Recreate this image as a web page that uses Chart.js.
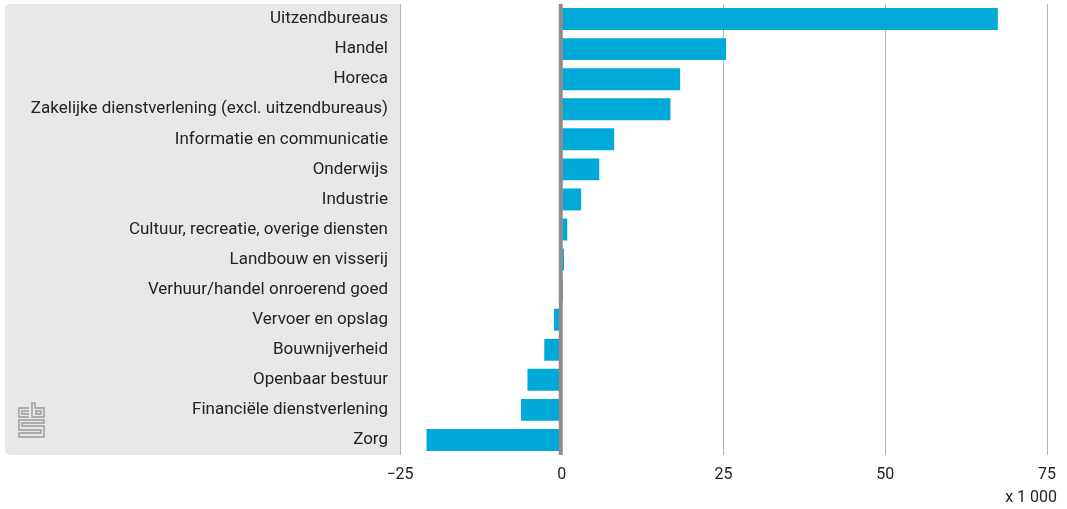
<!DOCTYPE html>
<html>
<head>
<meta charset="utf-8">
<script src="https://cdn.jsdelivr.net/npm/chart.js@4/dist/chart.umd.min.js"></script>
<style>
  html, body { margin: 0; padding: 0; background: #ffffff; }
  #wrap { width: 1067px; height: 509px; position: relative; }
</style>
</head>
<body>
<div id="wrap"><canvas id="c"></canvas></div>
<script>
const categories = [
  'Uitzendbureaus',
  'Handel',
  'Horeca',
  'Zakelijke dienstverlening (excl. uitzendbureaus)',
  'Informatie en communicatie',
  'Onderwijs',
  'Industrie',
  'Cultuur, recreatie, overige diensten',
  'Landbouw en visserij',
  'Verhuur/handel onroerend goed',
  'Vervoer en opslag',
  'Bouwnijverheid',
  'Openbaar bestuur',
  'Financiële dienstverlening',
  'Zorg'
];
const values = [67.4, 25.4, 18.3, 16.8, 8.1, 5.8, 3.0, 0.85, 0.35, 0.2, -1.2, -2.7, -5.3, -6.3, -20.9];
const xTicks = [-25, 0, 25, 50, 75];
const unitLabel = 'x 1 000';

const FONT = 'Roboto';

const panelPlugin = {
  id: 'panel',
  beforeDraw(chart) {
    const { ctx, chartArea } = chart;
    ctx.save();
    ctx.fillStyle = '#e8e8e8';
    ctx.beginPath();
    ctx.roundRect(5, chartArea.top, chartArea.left - 5, chartArea.bottom - chartArea.top, [5, 0, 0, 5]);
    ctx.fill();
    // cbs logo (decorative)
    const x0 = 18, y0 = chartArea.bottom - 52;
    ctx.strokeStyle = '#9a9a9a';
    ctx.lineWidth = 1.4;
    ctx.beginPath();
    ctx.moveTo(x0 + 11, y0 + 5); ctx.lineTo(x0 + 1, y0 + 5); ctx.lineTo(x0 + 1, y0 + 14); ctx.lineTo(x0 + 11, y0 + 14);
    ctx.moveTo(x0 + 11, y0 + 8); ctx.lineTo(x0 + 4, y0 + 8); ctx.lineTo(x0 + 4, y0 + 11); ctx.lineTo(x0 + 11, y0 + 11);
    ctx.moveTo(x0 + 14, y0 + 0); ctx.lineTo(x0 + 14, y0 + 14); ctx.lineTo(x0 + 26, y0 + 14); ctx.lineTo(x0 + 26, y0 + 5); ctx.lineTo(x0 + 17, y0 + 5); ctx.lineTo(x0 + 17, y0 + 0); ctx.closePath();
    ctx.rect(x0 + 18, y0 + 8, 5, 3);
    ctx.moveTo(x0 + 26, y0 + 17); ctx.lineTo(x0 + 1, y0 + 17); ctx.lineTo(x0 + 1, y0 + 27); ctx.lineTo(x0 + 23, y0 + 27); ctx.lineTo(x0 + 23, y0 + 30); ctx.lineTo(x0 + 1, y0 + 30); ctx.lineTo(x0 + 1, y0 + 34);
    ctx.lineTo(x0 + 26, y0 + 34); ctx.lineTo(x0 + 26, y0 + 23); ctx.lineTo(x0 + 4, y0 + 23); ctx.lineTo(x0 + 4, y0 + 20); ctx.lineTo(x0 + 26, y0 + 20); ctx.closePath();
    ctx.stroke();
    ctx.restore();
  }
};

const zeroLinePlugin = {
  id: 'zeroLine',
  afterDatasetsDraw(chart) {
    const { ctx, chartArea, scales } = chart;
    const x = scales.x.getPixelForValue(0) - 1;
    ctx.save();
    ctx.strokeStyle = '#8c8c8c';
    ctx.lineWidth = 4;
    ctx.beginPath();
    ctx.moveTo(x, chartArea.top);
    ctx.lineTo(x, chartArea.bottom);
    ctx.stroke();
    // unit label
    ctx.fillStyle = '#222222';
    ctx.font = '16px ' + FONT;
    ctx.textAlign = 'right';
    ctx.textBaseline = 'middle';
    ctx.fillText(unitLabel, chartArea.right + 10, chartArea.bottom + 43);
    ctx.restore();
  }
};

new Chart(document.getElementById('c'), {
  type: 'bar',
  data: {
    labels: categories,
    datasets: [{
      data: values,
      backgroundColor: '#00a9d8',
      borderWidth: 0,
      barPercentage: 0.73,
      categoryPercentage: 1.0
    }]
  },
  plugins: [panelPlugin, zeroLinePlugin],
  options: {
    indexAxis: 'y',
    responsive: true,
    maintainAspectRatio: false,
    animation: false,
    layout: { padding: { top: 4, right: 20, bottom: 0, left: 0 } },
    plugins: {
      legend: { display: false },
      tooltip: { enabled: false }
    },
    scales: {
      x: {
        min: -25,
        max: 75,
        afterBuildTicks(scale) { scale.ticks = xTicks.map(v => ({ value: v })); },
        afterFit(scale) { scale.height = 54; scale.paddingLeft = 0; scale.paddingRight = 0; },
        grid: {
          color: (c) => c.tick && c.tick.value === 0 ? 'rgba(0,0,0,0)' : '#b4b4b4',
          lineWidth: 1,
          drawTicks: false
        },
        border: { display: false },
        ticks: {
          padding: 10,
          color: '#222222',
          font: { family: FONT, size: 16 },
          callback: (v) => (v < 0 ? '\u2212' + Math.abs(v) : String(v))
        }
      },
      y: {
        afterFit(scale) { scale.width = 400; scale.paddingTop = 0; scale.paddingBottom = 0; },
        grid: { display: false, drawTicks: false },
        border: { display: false },
        ticks: {
          padding: 12,
          color: '#222222',
          font: { family: FONT, size: 17 }
        }
      }
    }
  }
});
</script>
</body>
</html>
